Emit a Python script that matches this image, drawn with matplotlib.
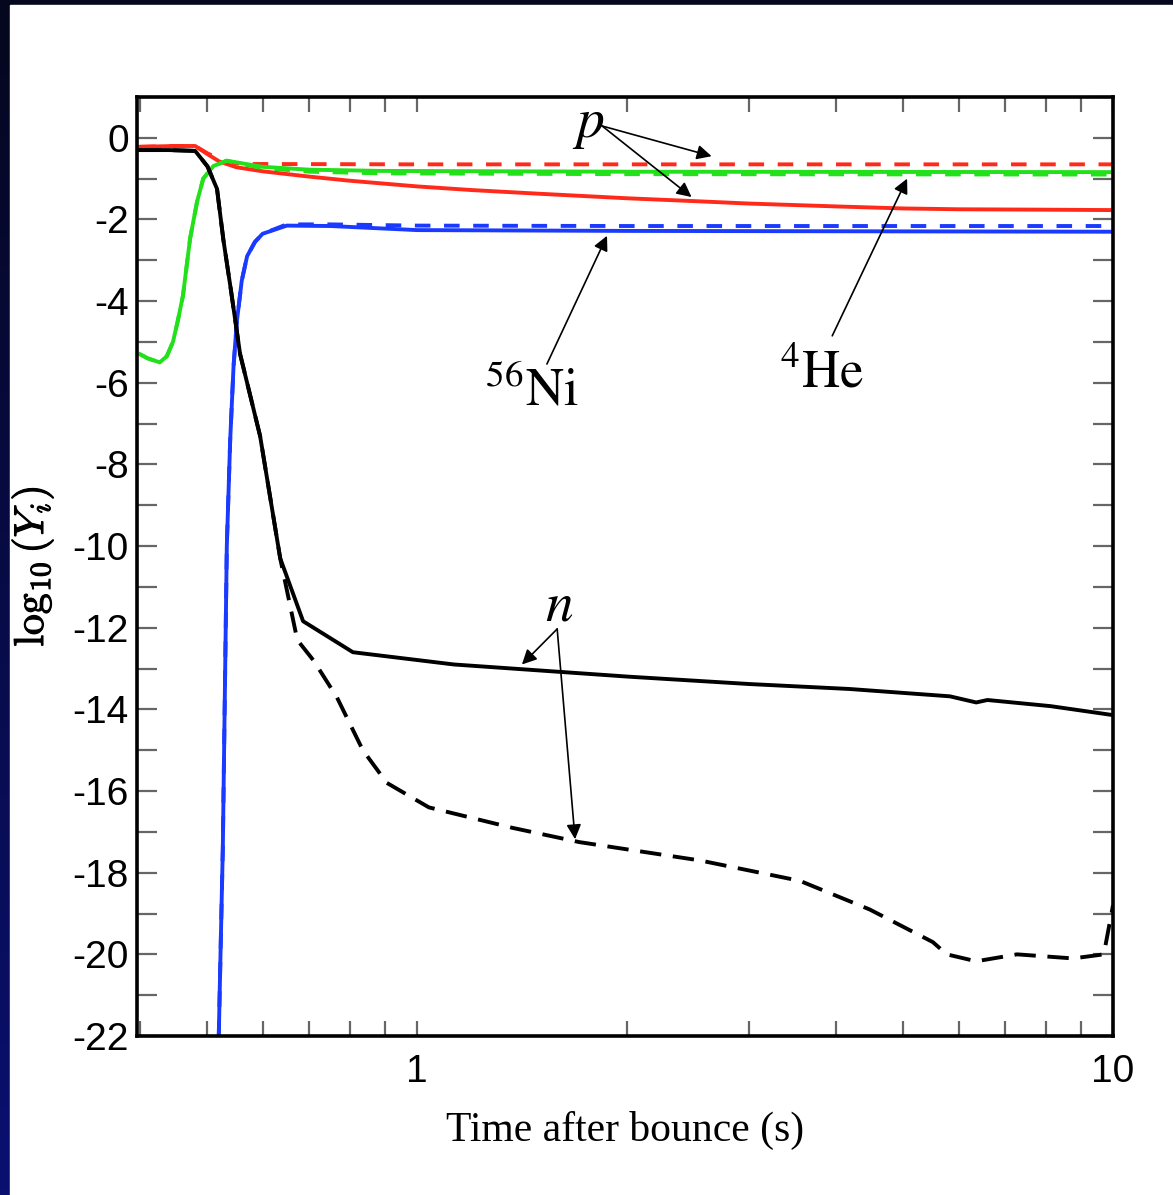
import numpy as np
import matplotlib
matplotlib.use('Agg')
import matplotlib.pyplot as plt
from matplotlib.patches import Rectangle
from matplotlib.ticker import MultipleLocator, LogLocator, FuncFormatter, NullFormatter
import matplotlib.patheffects as pe

plt.rcParams['axes.unicode_minus'] = False

# ---- data (time after bounce in s, log10 abundance) ----
t_p_solid = [0.40, 0.45, 0.48, 0.50, 0.52, 0.55, 0.60, 0.70, 0.80, 1.0, 1.2, 1.5, 2.0, 2.5, 3.0, 4.0, 5.0, 6.0, 8.0, 10.0]
y_p_solid = [-0.22, -0.2, -0.2, -0.4, -0.58, -0.72, -0.82, -0.95, -1.05, -1.19, -1.28, -1.37, -1.48, -1.55, -1.61, -1.68, -1.73, -1.75, -1.76, -1.77]
t_p_dash = [0.40, 0.45, 0.48, 0.50, 0.53, 0.56, 1.0, 10.0]
y_p_dash = [-0.22, -0.2, -0.2, -0.38, -0.58, -0.64, -0.65, -0.65]

t_he_solid = [0.40, 0.41, 0.427, 0.437, 0.446, 0.453, 0.461, 0.472, 0.483, 0.493, 0.51, 0.533, 0.55, 0.60, 0.70, 0.885, 2.0, 10.0]
y_he_solid = [-5.3, -5.4, -5.5, -5.35, -5.0, -4.5, -3.87, -2.47, -1.57, -1.0, -0.69, -0.56, -0.6, -0.71, -0.78, -0.81, -0.83, -0.84]
t_he_dash = [0.40, 0.41, 0.427, 0.437, 0.446, 0.453, 0.461, 0.472, 0.483, 0.493, 0.51, 0.533, 0.55, 0.60, 0.70, 0.885, 2.0, 10.0]
y_he_dash = [-5.3, -5.4, -5.5, -5.35, -5.0, -4.5, -3.87, -2.47, -1.57, -1.0, -0.69, -0.56, -0.62, -0.74, -0.83, -0.87, -0.89, -0.9]

t_ni_solid = [0.519, 0.522, 0.526, 0.533, 0.539, 0.545, 0.551, 0.560, 0.570, 0.585, 0.60, 0.65, 0.75, 1.0, 2.0, 10.0]
y_ni_solid = [-22, -20, -17.4, -10, -7.4, -5.6, -4.5, -3.5, -2.9, -2.55, -2.35, -2.15, -2.16, -2.26, -2.28, -2.30]
t_ni_dash = [0.519, 0.522, 0.526, 0.533, 0.539, 0.545, 0.551, 0.560, 0.570, 0.585, 0.60, 0.65, 0.75, 1.0, 2.0, 10.0]
y_ni_dash = [-22, -20, -17.4, -10, -7.4, -5.6, -4.5, -3.5, -2.9, -2.55, -2.35, -2.12, -2.12, -2.15, -2.16, -2.16]

t_n_solid = [0.40, 0.44, 0.48, 0.50, 0.516, 0.527, 0.54, 0.557, 0.595, 0.636, 0.686, 0.809, 1.13, 2.02, 3.01, 4.18, 5.83, 6.36, 6.6, 8.13, 10.0]
y_n_solid = [-0.3, -0.3, -0.32, -0.7, -1.25, -2.5, -3.7, -5.3, -7.3, -10.3, -11.84, -12.6, -12.9, -13.2, -13.38, -13.5, -13.68, -13.83, -13.77, -13.92, -14.14]
t_n_dash = [0.40, 0.44, 0.48, 0.50, 0.516, 0.527, 0.54, 0.557, 0.595, 0.636, 0.673, 0.71, 0.767, 0.836, 0.905, 1.04, 1.37, 1.71, 2.55, 3.55, 4.47, 5.51, 5.77, 6.36, 7.28, 8.76, 9.7, 10.0]
y_n_dash = [-0.3, -0.3, -0.32, -0.7, -1.25, -2.5, -3.7, -5.3, -7.3, -10.3, -12.3, -12.8, -13.7, -15.0, -15.8, -16.4, -16.9, -17.25, -17.7, -18.2, -18.9, -19.7, -20.0, -20.17, -20.0, -20.1, -20.0, -18.8]

W, H = 1173, 1195
fig = plt.figure(figsize=(W / 100, H / 100), dpi=100)

# dark navy frame with a vertical gradient, white page on top
bg = fig.add_axes([0, 0, 1, 1], zorder=-2)
grad = np.linspace(0, 1, 256).reshape(-1, 1)
top_c = np.array([5, 7, 30]) / 255
bot_c = np.array([10, 16, 112]) / 255
img = top_c + (bot_c - top_c) * grad[..., None]
bg.imshow(img, aspect='auto', extent=[0, 1, 0, 1], origin='upper')
bg.add_patch(Rectangle((10 / W, 0), (1172 - 10) / W, (H - 5) / H, color='white'))
bg.set_xlim(0, 1)
bg.set_ylim(0, 1)
bg.axis('off')

ax = fig.add_axes([137 / W, (H - 1036) / H, (1113 - 137) / W, (1036 - 97) / H])
ax.set_xscale('log')
ax.set_xlim(0.396, 10)
ax.set_ylim(-22, 1)

lw = 2.8
ax.plot(t_p_dash, y_p_dash, color='#ff2a1a', lw=lw, dashes=(4, 3.5))
ax.plot(t_p_solid, y_p_solid, color='#ff2a1a', lw=lw)
ax.plot(t_he_dash, y_he_dash, color='#22e01a', lw=lw, dashes=(4, 3.5))
ax.plot(t_he_solid, y_he_solid, color='#22e01a', lw=lw)
ax.plot(t_ni_dash, y_ni_dash, color='#1a3aff', lw=lw, dashes=(4, 3.5))
ax.plot(t_ni_solid, y_ni_solid, color='#1a3aff', lw=lw)
ax.plot(t_n_dash, y_n_dash, color='black', lw=lw, dashes=(5.5, 3))
ax.plot(t_n_solid, y_n_solid, color='black', lw=lw)

# axes styling
for s in ax.spines.values():
    s.set_linewidth(2.6)
ax.yaxis.set_major_locator(MultipleLocator(2))
ax.yaxis.set_minor_locator(MultipleLocator(1))
ax.xaxis.set_major_locator(LogLocator(base=10))
ax.xaxis.set_minor_locator(LogLocator(base=10, subs=np.arange(2, 10)))
ax.xaxis.set_major_formatter(FuncFormatter(lambda v, p: f'{v:g}'))
ax.xaxis.set_minor_formatter(NullFormatter())
ax.yaxis.set_major_formatter(FuncFormatter(lambda v, p: f'{v:g}'))
ax.tick_params(axis='both', which='both', direction='in', top=True, right=True,
               color='#666666', width=1.6)
ax.tick_params(axis='y', which='both', length=14.4, pad=6)
ax.tick_params(axis='x', which='both', length=10.8, pad=13)
for lab in ax.get_xticklabels() + ax.get_yticklabels():
    lab.set_fontfamily('Liberation Sans')
    lab.set_fontsize(28)

ax.set_xlabel('Time after bounce (s)', fontfamily='Liberation Serif', fontsize=30)
ax.xaxis.set_label_coords(0.5, -0.08)
ax.set_ylabel(r'$\log_{10}(Y_i)$', fontsize=30, math_fontfamily='cm',
              path_effects=[pe.withStroke(linewidth=0.8, foreground='black')])
ax.yaxis.set_label_coords(-0.083, 0.5)

# labels and arrows
arrow = dict(arrowstyle='-|>', color='black', lw=1.2, mutation_scale=22, shrinkA=0, shrinkB=0)
lab_kw = dict(ha='center', va='center', math_fontfamily='stix', color='black')

ax.text(1.76, 0.35, r'$p$', fontsize=40, **lab_kw)
ax.annotate('', xy=(2.65, -0.45), xytext=(1.845, 0.29), arrowprops=arrow)
ax.annotate('', xy=(2.48, -1.45), xytext=(1.845, 0.29), arrowprops=arrow)

ax.text(1.46, -6.2, r'$^{56}\mathrm{Ni}$', fontsize=38, **lab_kw)
ax.annotate('', xy=(1.875, -2.4), xytext=(1.537, -5.54), arrowprops=arrow)

ax.text(3.82, -5.75, r'$^{4}\mathrm{He}$', fontsize=38, **lab_kw)
ax.annotate('', xy=(5.06, -1.0), xytext=(3.95, -4.85), arrowprops=arrow)

ax.text(1.60, -11.45, r'$n$', fontsize=40, **lab_kw)
ax.annotate('', xy=(1.415, -12.9), xytext=(1.59, -12.03), arrowprops=arrow)
ax.annotate('', xy=(1.687, -17.18), xytext=(1.59, -12.03), arrowprops=arrow)

fig.savefig('out.png', dpi=100)
